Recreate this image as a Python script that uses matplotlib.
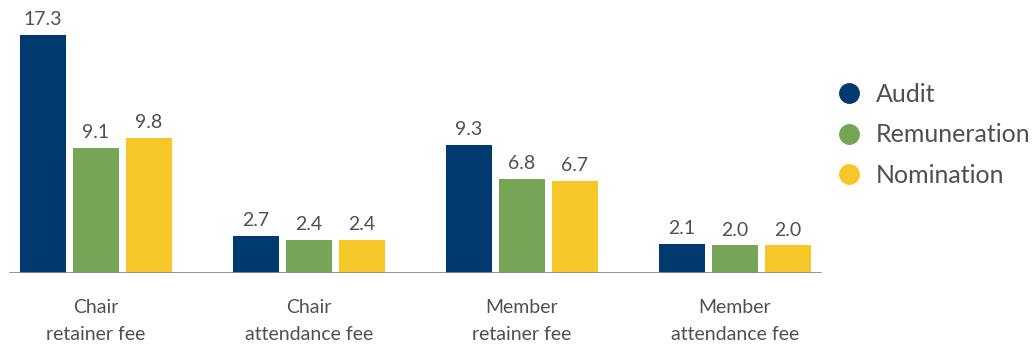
import matplotlib
matplotlib.use('Agg')
import matplotlib.pyplot as plt
from matplotlib.lines import Line2D
import numpy as np

plt.rcParams['font.family'] = ['Lato', 'DejaVu Sans']

categories = ['Chair\nretainer fee', 'Chair\nattendance fee',
              'Member\nretainer fee', 'Member\nattendance fee']
series = ['Audit', 'Remuneration', 'Nomination']
audit = [17.3, 2.7, 9.3, 2.1]
remuneration = [9.1, 2.4, 6.8, 2.0]
nomination = [9.8, 2.4, 6.7, 2.0]
colors = ['#003a70', '#76a655', '#f7c72a']

TEXT = '#505050'

fig = plt.figure(figsize=(10.36, 3.46), dpi=100)
ax = fig.add_axes([0.0, 0.211, 1.0, 0.789])

x = np.arange(len(categories))
width = 0.216
step = 0.249
for i, (vals, col) in enumerate(zip([audit, remuneration, nomination], colors)):
    pos = x + (i - 1) * step
    ax.bar(pos, vals, width=width, color=col, zorder=2)
    for px, v in zip(pos, vals):
        ax.annotate(f'{v:.1f}', (px, v), xytext=(0, 5), textcoords='offset points',
                    ha='center', va='bottom', fontsize=14, color=TEXT)

# data x from -0.404 to 3.399 spans pixels 10..820 of the 1036 px figure
x0, x1 = -0.404, 3.399
left_px, right_px = 10, 820
scale = (x1 - x0) / (right_px - left_px)
ax.set_xlim(x0 - left_px * scale, x1 + (1036 - right_px) * scale)
ax.set_ylim(0, 19.84)
ax.axhline(0, xmin=left_px / 1036, xmax=right_px / 1036, color='#8a8a8a', lw=2, zorder=3)

for s in ax.spines.values():
    s.set_visible(False)
ax.set_yticks([])
ax.set_xticks([])
for xi, lab in zip(x, categories):
    ax.annotate(lab, (xi, 0), xytext=(0, -19), textcoords='offset points',
                ha='center', va='top', fontsize=14, color=TEXT, linespacing=1.7,
                annotation_clip=False)

handles = [Line2D([], [], marker='o', ls='none', markersize=14, color=c) for c in colors]
fig.legend(handles, series, loc='center left', bbox_to_anchor=(0.783, 0.61),
           frameon=False, fontsize=18, labelcolor=TEXT, handletextpad=0.5,
           labelspacing=0.7, handlelength=1.2)

fig.savefig('out.png', dpi=100)
